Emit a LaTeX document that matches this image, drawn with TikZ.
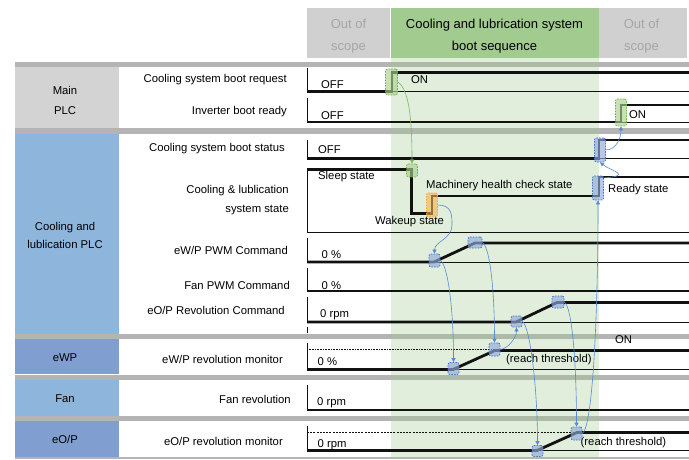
\documentclass[tikz,border=0pt]{standalone}
\usepackage{fontspec}
\setmainfont{Liberation Sans}
\usetikzlibrary{arrows.meta}

\definecolor{hdrgray}{HTML}{D0D0D0}
\definecolor{hdrtext}{HTML}{A6A6A6}
\definecolor{hdrgreen}{HTML}{A1CB8F}
\definecolor{bandgreen}{HTML}{9BC88A}
\definecolor{bargray}{HTML}{B4B4B4}
\definecolor{plcgray}{HTML}{D3D3D3}
\definecolor{plcblue}{HTML}{8EB6DC}
\definecolor{devblue}{HTML}{809FD0}
\definecolor{hlbluefill}{HTML}{8FAADC}
\definecolor{hlblueline}{HTML}{4472C4}
\definecolor{hlgreenfill}{HTML}{A9D18E}
\definecolor{hlgreenline}{HTML}{70AD47}
\definecolor{hlorangefill}{HTML}{F2B24E}
\definecolor{hlorangeline}{HTML}{F4A63C}
\definecolor{linkblue}{HTML}{5A8AD4}
\definecolor{linkgreen}{HTML}{7DB85C}
\definecolor{sig}{HTML}{111111}
\definecolor{sigband}{HTML}{1E2A1A}

\begin{document}
\begin{tikzpicture}[x=1pt,y=-1pt,
  font=\fontsize{11.3}{13.5}\selectfont,
  thicksig/.style={line width=2.8pt, draw=sig},
  thinsig/.style={line width=0.7pt, draw=sig},
  hdrbox/.style={rectangle, inner sep=0},
  hdrtxt/.style={inner sep=0, align=center, font=\fontsize{13}{22}\selectfont},
  groupbox/.style={rectangle, inner sep=0},
  grouptxt/.style={inner sep=0, align=center, font=\fontsize{11.3}{19}\selectfont},
  rowlabel/.style={anchor=east, inner sep=0, align=right},
  sigtext/.style={anchor=west, inner sep=0},
  hl/.style={rectangle, rounded corners=2pt, dash pattern=on 1.6pt off 1.2pt,
             line width=0.7pt, inner sep=0, fill opacity=0.65},
  hlb/.style={hl, draw=hlblueline, fill=hlbluefill},
  hlg/.style={hl, draw=hlgreenline, fill=hlgreenfill},
  hlo/.style={hl, draw=hlorangeline, fill=hlorangefill, fill opacity=0.6},
  linkb/.style={draw=linkblue, line width=0.6pt, -{Triangle[length=4pt,width=4pt]}},
  linkg/.style={draw=linkgreen, line width=0.6pt, -{Triangle[length=4pt,width=4pt]}}]

\fill[white] (0,0) rectangle (689,459);
\useasboundingbox (0,0) rectangle (689,459);

% ---- header ----
\node[hdrbox, fill=hdrgray, minimum width=83, minimum height=50] (scopeL) at (348.5,33) {};
\node[hdrbox, fill=hdrgreen, minimum width=208, minimum height=50] (seqhdr) at (494.5,33) {};
\node[hdrbox, fill=hdrgray, minimum width=88, minimum height=50] (scopeR) at (642.5,33) {};
\node[hdrtxt, text=hdrtext] (scopeLtxt) at (348.5,36.5) {Out of\\scope};
\node[hdrtxt] (seqtxt) at (494.5,36.5) {Cooling and lubrication system\\boot sequence};
\node[hdrtxt, text=hdrtext] (scopeRtxt) at (641.5,36.5) {Out of\\scope};

% ---- separator bars ----
\fill[bargray] (15,62) rectangle (689,67);
\fill[bargray] (15,128) rectangle (689,133.5);
\fill[bargray] (15,334) rectangle (689,339);
\fill[bargray] (15,375) rectangle (689,380);
\fill[bargray] (15,416) rectangle (689,421);
\fill[bargray] (15,456.5) rectangle (689,459);

% ---- boot sequence band ----
\fill[bandgreen, opacity=0.3] (390.5,58) rectangle (599,459);

% ---- group boxes ----
\node[groupbox, fill=plcgray, minimum width=104, minimum height=61] (mainplc) at (67,97.5) {};
\node[groupbox, fill=plcblue, minimum width=104, minimum height=200.5] (coolplc) at (67,233.75) {};
\node[groupbox, fill=devblue, minimum width=104, minimum height=34.5] (ewp) at (67,356.25) {};
\node[groupbox, fill=plcblue, minimum width=104, minimum height=35.5] (fan) at (67,397.75) {};
\node[groupbox, fill=devblue, minimum width=104, minimum height=35.5] (eop) at (67,438.75) {};
\node[grouptxt, font=\fontsize{11.3}{20}\selectfont] (mainplctxt) at (65,100.5) {Main\\PLC};
\node[grouptxt, font=\fontsize{11.3}{18}\selectfont] (coolplctxt) at (65,235.5) {Cooling and\\lublication PLC};
\node[grouptxt] (ewptxt) at (65,358) {eWP};
\node[grouptxt] (fantxt) at (65,398.5) {Fan};
\node[grouptxt] (eoptxt) at (65,439.5) {eO/P};

% ---- row labels ----
\node[rowlabel] (lreq) at (287,80) {Cooling system boot request};
\node[rowlabel] (lready) at (287,112) {Inverter boot ready};
\node[rowlabel] (lstatus) at (285,149) {Cooling system boot status};
\node[rowlabel, font=\fontsize{11.3}{19.5}\selectfont] (lstate) at (289,200) {Cooling \& lublication\\system state};
\node[rowlabel] (lewpcmd) at (288,250) {eW/P PWM Command};
\node[rowlabel] (lfancmd) at (290,285) {Fan PWM Command};
\node[rowlabel] (leopcmd) at (285,310) {eO/P Revolution Command};
\node[rowlabel] (lewpmon) at (283,359) {eW/P revolution monitor};
\node[rowlabel] (lfanmon) at (291,399) {Fan revolution};
\node[rowlabel] (leopmon) at (283,441) {eO/P revolution monitor};

% ---- signal traces ----
% boot request
\draw[thinsig] (307,68) -- (307,91.5) -- (689,91.5);
\draw[thicksig] (307,91.5) -- (392,91.5) -- (392,72.5) -- (689,72.5);
% inverter boot ready
\draw[thinsig] (307,98) -- (307,122) -- (689,122);
\draw[thicksig] (307,122) -- (621,122) -- (621,105) -- (689,105);
% boot status
\draw[thinsig] (307,140) -- (307,158.5) -- (689,158.5);
\draw[thicksig] (307,158.5) -- (599,158.5) -- (599,140) -- (689,140);
% system state
\draw[thinsig] (307,168) -- (307,232) -- (689,232);
\draw[thicksig] (307,169.5) -- (411.5,169.5) -- (411.5,213.5) -- (432,213.5) -- (432,196) -- (599,196) -- (599,177) -- (689,177);
% eW/P PWM command
\draw[thinsig] (307,238) -- (307,262) -- (689,262);
\draw[thicksig] (307,262) -- (434,262) -- (475,243) -- (689,243);
% fan PWM command
\draw[thinsig] (307,268) -- (307,291);
\draw[thicksig] (307,291) -- (689,291);
% eO/P revolution command
\draw[thinsig] (307,297) -- (307,322) -- (689,322);
\draw[thicksig] (307,322) -- (516,322) -- (557,302.5) -- (689,302.5);
\draw[thinsig] (307,327) -- (307,333);
% eW/P revolution monitor
\draw[thinsig] (307,343) -- (307,369.5) -- (689,369.5);
\draw[line width=0.6pt, draw=sig, dash pattern=on 0.8pt off 0.8pt] (307,349.5) -- (495,349.5);
\draw[thicksig] (307,369.5) -- (453,369.5) -- (495,350.5) -- (689,350.5);
% fan revolution
\draw[thinsig] (307,385) -- (307,410);
\draw[thicksig] (307,410) -- (689,410);
% eO/P revolution monitor
\draw[thinsig] (307,426) -- (307,450.5) -- (689,450.5);
\draw[line width=0.6pt, draw=sig, dash pattern=on 2pt off 1.2pt] (307,432) -- (577,432);
\draw[thicksig] (307,450.5) -- (537,450.5) -- (577,432.5) -- (689,432.5);

% ---- signal values ----
\node[sigtext] (off1) at (321,85) {OFF};
\node[sigtext] (on1) at (411,80) {ON};
\node[sigtext] (off2) at (321,116) {OFF};
\node[sigtext] (on2) at (629,114.5) {ON};
\node[sigtext] (off3) at (318,150) {OFF};
\node[sigtext] (sleep) at (318,177) {Sleep state};
\node[sigtext] (health) at (426,186) {Machinery health check state};
\node[sigtext] (wakeup) at (375,222) {Wakeup state};
\node[sigtext] (readyst) at (608,190) {Ready state};
\node[sigtext] (pwm0) at (321.5,254.5) {0 \%};
\node[sigtext] (fanpwm0) at (321.5,286) {0 \%};
\node[sigtext] (rpm0) at (320,315) {0 rpm};
\node[sigtext] (on3) at (615,340) {ON};
\node[sigtext] (ewp0) at (317.5,361.5) {0 \%};
\node[sigtext] (thr1) at (506,360) {(reach threshold)};
\node[sigtext] (fanrpm0) at (317,403) {0 rpm};
\node[sigtext] (eoprpm0) at (317.5,445) {0 rpm};
\node[sigtext] (thr2) at (580.5,442.5) {(reach threshold)};

% ---- highlighted transitions ----
\node[hlg, minimum width=12, minimum height=26] (g1) at (391.5,82) {};
\node[hlg, minimum width=11, minimum height=13] (g2) at (412,170.5) {};
\node[hlo, minimum width=11, minimum height=24] (o1) at (432,205) {};
\node[hlg, minimum width=11, minimum height=27] (g3) at (621,112.5) {};
\node[hlb, minimum width=11, minimum height=24] (b1) at (600,150) {};
\node[hlb, minimum width=11, minimum height=24] (b2) at (598,188) {};
\node[hlb, minimum width=11, minimum height=13] (b3) at (434.5,260.5) {};
\node[hlb, minimum width=14, minimum height=11] (b4) at (475,242.5) {};
\node[hlb, minimum width=11, minimum height=11] (b5) at (516.5,321.5) {};
\node[hlb, minimum width=12, minimum height=12] (b6) at (558,302) {};
\node[hlb, minimum width=11, minimum height=12] (b7) at (453.5,368.5) {};
\node[hlb, minimum width=11, minimum height=13] (b8) at (494.5,349.5) {};
\node[hlb, minimum width=11, minimum height=11] (b9) at (537.5,451) {};
\node[hlb, minimum width=11, minimum height=13] (b10) at (576.5,433.5) {};

% ---- causal links ----
\draw[linkg] (g1.east) .. controls +(12,8) and +(0,-40) .. (g2.north);
\draw[linkb] (o1.east) .. controls +(14,0) and +(0,-10) .. (452,225) .. controls +(0,14) and +(0,-12) .. (b3.north);
\draw[linkb] (b3.east) .. controls +(8,5) and +(0,-50) .. (b7.north);
\draw[linkb] (b4.east) .. controls +(8,5) and +(0,-50) .. (b8.north);
\draw[linkb] (b8.east) .. controls +(8,-1) and +(0,10) .. (b5.south);
\draw[linkb] (b5.east) .. controls +(8,5) and +(0,-55) .. (b9.north);
\draw[linkb] (b6.east) .. controls +(8,5) and +(0,-60) .. (b10.north);
\draw[linkb] (b10.east) .. controls +(10,-6) and +(0,120) .. (b2.south);
\draw[linkb] (b2.60) .. controls +(30,-2) and +(10,8) .. (b1.south);
\draw[linkb] (b1.east) .. controls +(10,0) and +(0,12) .. (g3.south);

\end{tikzpicture}
\end{document}
